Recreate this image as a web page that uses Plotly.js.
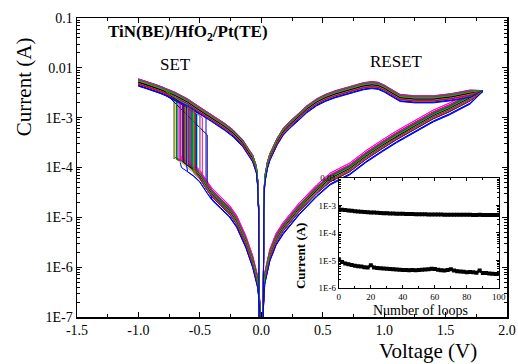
<!DOCTYPE html>
<html>
<head>
<meta charset="utf-8">
<script src="https://cdn.plot.ly/plotly-3.0.1.min.js"></script>
<style>html,body{margin:0;padding:0;background:#fff;}#chart{width:518px;height:364px;}</style>
</head>
<body>
<div id="chart"></div>
<script>
// ---------- Main I-V data ----------
// HRS branch on negative side (sweep 0 -> SET voltage)
const HRS_NEG_V = [-0.01,-0.012,-0.02,-0.03,-0.07,-0.125,-0.2,-0.26,-0.33,-0.4,-0.45,-0.5,-0.55,-0.6,-0.65,-0.7];
const HRS_NEG_I = [1e-8,1.5e-7,3e-7,5e-7,1.25e-6,3.1e-6,8e-6,1.3e-5,1.9e-5,2.8e-5,4.2e-5,6.5e-5,8.5e-5,1.05e-4,1.25e-4,1.45e-4];
// LRS branch on negative side (sweep -1 -> 0)
const LRS_NEG_V = [-1.0,-0.95,-0.9,-0.85,-0.8,-0.7,-0.6,-0.5,-0.4,-0.3,-0.23,-0.15,-0.1,-0.07,-0.04,-0.03,-0.022,-0.02,-0.019,-0.018];
const LRS_NEG_I = [5.0e-3,4.6e-3,4.2e-3,3.8e-3,3.4e-3,2.7e-3,2.0e-3,1.35e-3,9.5e-4,6.5e-4,4.8e-4,3.0e-4,1.9e-4,1.5e-4,9e-5,5e-5,1.5e-5,2e-6,1e-7,1e-8];
// LRS branch on positive side with RESET (sweep 0 -> 1.8)
const LRS_POS_V = [0.015,0.016,0.017,0.02,0.028,0.05,0.07,0.1,0.13,0.18,0.23,0.3,0.37,0.45,0.52,0.6,0.68,0.75,0.83,0.9,0.95,1.0,1.05,1.13,1.25,1.4,1.55,1.7,1.8];
const LRS_POS_I = [1e-8,1e-7,2e-6,1.5e-5,5.5e-5,1.1e-4,1.6e-4,2.3e-4,3.3e-4,5.2e-4,7.0e-4,1.0e-3,1.45e-3,2.0e-3,2.45e-3,2.9e-3,3.35e-3,3.7e-3,4.2e-3,4.45e-3,4.3e-3,3.8e-3,3.2e-3,2.45e-3,2.3e-3,2.3e-3,2.55e-3,3.0e-3,3.5e-3];
// HRS branch on positive side (sweep 1.8 -> 0)
const HRS_POS_V = [1.8,1.7,1.53,1.4,1.26,1.1,0.99,0.85,0.72,0.56,0.45,0.31,0.177,0.12,0.07,0.028,0.015,0.012];
const HRS_POS_I = [3.3e-3,2.4e-3,1.45e-3,1.05e-3,6.7e-4,4.0e-4,2.7e-4,1.6e-4,9.1e-5,5.7e-5,3.3e-5,1.45e-5,5.8e-6,3.5e-6,1.7e-6,5.8e-7,1.5e-7,1e-8];

// Per-loop estimates: SET voltage, current before/after the SET jump, LRS and HRS spread factors
const LOOP_SET_V = [-0.58,-0.62,-0.55,-0.66,-0.52,-0.60,-0.70,-0.57,-0.64,-0.50,
                    -0.61,-0.56,-0.68,-0.53,-0.59,-0.63,-0.48,-0.65,-0.57,-0.71,
                    -0.54,-0.60,-0.62,-0.45,-0.58,-0.67,-0.55,-0.61,-0.44,-0.64,
                    -0.59,-0.69,-0.56,-0.53,-0.62,-0.58,-0.66,-0.50,-0.60,-0.57,
                    -0.63,-0.54,-0.55,-0.61];
const LOOP_SET_LOW = [1.0e-4,1.2e-4,9e-5,1.3e-4,8e-5,1.2e-4,1.5e-4,1.0e-4,1.3e-4,7e-5,
                      1.2e-4,9.5e-5,1.4e-4,8e-5,1.1e-4,1.25e-4,6e-5,1.3e-4,1.0e-4,1.5e-4,
                      8.5e-5,1.15e-4,1.2e-4,5e-5,1.05e-4,1.35e-4,9e-5,1.2e-4,4.2e-5,1.3e-4,
                      1.1e-4,1.45e-4,9.5e-5,8e-5,1.2e-4,1.0e-4,1.35e-4,7e-5,1.1e-4,1.0e-4,
                      1.25e-4,8.5e-5,9e-5,1.2e-4];
const LOOP_SET_TOP = [1.6e-3,1.8e-3,1.4e-3,1.9e-3,1.2e-3,1.7e-3,2.1e-3,1.5e-3,1.9e-3,1.1e-3,
                      1.7e-3,1.5e-3,2.0e-3,1.3e-3,1.6e-3,1.8e-3,1.0e-3,1.9e-3,1.5e-3,2.2e-3,
                      1.3e-3,1.7e-3,1.8e-3,1.0e-3,1.6e-3,2.0e-3,1.4e-3,1.7e-3,4.5e-4,1.9e-3,
                      1.6e-3,2.1e-3,1.4e-3,1.2e-3,1.8e-3,1.5e-3,1.9e-3,1.1e-3,1.7e-3,1.5e-3,
                      1.8e-3,1.3e-3,1.4e-3,1.7e-3];
const LOOP_LRS_F = [1.02,1.10,0.98,0.88,1.05,1.15,1.08,0.95,1.12,1.00,
                    1.18,0.93,1.06,1.14,0.97,1.04,1.20,0.99,1.09,1.01,
                    0.96,1.13,1.03,0.90,1.11,1.16,0.94,1.07,1.00,1.12,
                    0.97,1.05,1.17,0.95,1.08,1.01,1.14,0.98,1.06,1.10,
                    1.03,0.96,1.09,0.86];
const LOOP_HRS_F = [1.05,1.20,0.95,0.80,1.10,1.35,1.00,0.92,1.15,1.02,
                    1.25,0.90,1.08,1.12,0.97,1.18,1.05,0.93,1.00,1.10,
                    0.96,1.22,1.04,0.82,1.14,1.35,0.94,1.06,0.98,1.16,
                    0.99,1.12,1.20,0.91,1.07,1.03,1.24,0.95,1.02,1.15,
                    1.06,0.93,1.10,0.78];

// ---------- Inset data (loops vs current) ----------
const INSET_LOOPS = [0,2,4,6,8,10,12,14,16,18,20,22,24,26,28,30,32,34,36,38,40,42,44,46,48,50,
                     52,54,56,58,60,62,64,66,68,70,72,74,76,78,80,82,84,86,88,90,92,94,96,98,100];
const INSET_LRS = [7.3e-4,7.0e-4,6.8e-4,6.6e-4,6.4e-4,6.2e-4,6.0e-4,5.9e-4,5.8e-4,5.7e-4,5.6e-4,5.5e-4,5.4e-4,5.3e-4,5.2e-4,5.2e-4,5.1e-4,5.1e-4,5.0e-4,5.0e-4,5.0e-4,4.9e-4,4.9e-4,4.9e-4,4.8e-4,4.8e-4,
                   4.8e-4,4.8e-4,4.7e-4,4.7e-4,4.7e-4,4.7e-4,4.7e-4,4.6e-4,4.6e-4,4.6e-4,4.6e-4,4.6e-4,4.6e-4,4.6e-4,4.6e-4,4.6e-4,4.5e-4,4.5e-4,4.6e-4,4.5e-4,4.5e-4,4.5e-4,4.5e-4,4.5e-4,4.6e-4];
const INSET_HRS = [1.1e-5,8.8e-6,7.8e-6,7.3e-6,6.9e-6,6.5e-6,6.2e-6,6.0e-6,5.7e-6,5.6e-6,6.7e-6,5.6e-6,5.3e-6,5.2e-6,5.1e-6,5.0e-6,4.9e-6,4.8e-6,4.7e-6,4.6e-6,4.5e-6,4.5e-6,4.4e-6,4.5e-6,4.4e-6,4.5e-6,
                   4.6e-6,4.7e-6,4.8e-6,5.0e-6,4.9e-6,4.6e-6,4.4e-6,4.3e-6,4.5e-6,4.8e-6,4.3e-6,4.1e-6,4.0e-6,3.9e-6,3.7e-6,3.8e-6,3.7e-6,3.6e-6,4.3e-6,3.5e-6,3.5e-6,3.4e-6,3.3e-6,3.2e-6,3.2e-6];

// ---------- Style ----------
const LOOP_COLORS = ['#000000','#FF0000','#00C000','#0000FF','#00FFFF','#FF00FF','#E0E000','#808000','#000080','#800080',
                     '#800000','#008000','#008080','#0000A0','#FF8000','#8000FF','#FF0080','#A0A0A0','#808080','#404040'];
const FONT = 'Liberation Serif, "Times New Roman", serif';

const traces = [];
for (let i = 0; i < LOOP_SET_V.length; i++) {
  const x = [], y = [];
  const sv = LOOP_SET_V[i], lf = LOOP_LRS_F[i], hf = LOOP_HRS_F[i];
  for (let j = 0; j < HRS_NEG_V.length; j++) {
    if (HRS_NEG_V[j] > sv) { x.push(HRS_NEG_V[j]); y.push(HRS_NEG_I[j] * hf); }
  }
  x.push(sv); y.push(LOOP_SET_LOW[i]);
  x.push(sv); y.push(LOOP_SET_TOP[i]);
  for (let j = LRS_NEG_V.length - 1; j >= 0; j--) {
    if (LRS_NEG_V[j] <= -0.8 && LRS_NEG_V[j] < sv) { x.push(LRS_NEG_V[j]); y.push(LRS_NEG_I[j] * lf); }
  }
  for (let j = 0; j < LRS_NEG_V.length; j++) { x.push(LRS_NEG_V[j]); y.push(LRS_NEG_I[j] * lf); }
  for (let j = 0; j < LRS_POS_V.length; j++) {
    x.push(LRS_POS_V[j]); y.push(j === LRS_POS_V.length - 1 ? LRS_POS_I[j] : LRS_POS_I[j] * lf);
  }
  for (let j = 0; j < HRS_POS_V.length; j++) {
    x.push(HRS_POS_V[j]); y.push(j === 0 ? HRS_POS_I[j] : HRS_POS_I[j] * hf);
  }
  traces.push({x: x, y: y, type: 'scatter', mode: 'lines', xaxis: 'x', yaxis: 'y',
    line: {color: LOOP_COLORS[i % LOOP_COLORS.length], width: 1}, hoverinfo: 'skip'});
}
[INSET_LRS, INSET_HRS].forEach(function (ser) {
  traces.push({x: INSET_LOOPS, y: ser, type: 'scatter', mode: 'lines+markers', xaxis: 'x2', yaxis: 'y2',
    line: {color: '#000', width: 2.5}, marker: {symbol: 'square', size: 4, color: '#000'}, hoverinfo: 'skip'});
});

const axBase = {showline: true, linecolor: '#000', mirror: 'ticks', showgrid: false, zeroline: false,
  ticks: 'inside', tickcolor: '#000'};

const layout = {
  width: 518, height: 364,
  margin: {l: 77, r: 11, t: 18, b: 47},
  paper_bgcolor: '#fff', plot_bgcolor: '#fff',
  showlegend: false,
  font: {family: FONT, color: '#000', size: 14},
  xaxis: Object.assign({}, axBase, {
    domain: [0, 1], anchor: 'y', range: [-1.5, 2.0], linewidth: 1.5, ticklen: 5, tickwidth: 1.2,
    tickvals: [-1.5,-1.0,-0.5,0.0,0.5,1.0,1.5,2.0], ticktext: ['-1.5','-1.0','-0.5','0.0','0.5','1.0','1.5','2.0'],
    tickfont: {size: 14, family: FONT},
    minor: {ticks: 'inside', ticklen: 3, tickwidth: 1, dtick: 0.25, tickcolor: '#000', showgrid: false}
  }),
  yaxis: Object.assign({}, axBase, {
    domain: [0, 1], anchor: 'x', type: 'log', range: [-7, -1], linewidth: 1.5, ticklen: 5, tickwidth: 1.2,
    tickvals: [1e-7,1e-6,1e-5,1e-4,1e-3,1e-2,1e-1], ticktext: ['1E-7','1E-6','1E-5','1E-4','1E-3','0.01','0.1'],
    tickfont: {size: 14, family: FONT},
    minor: {ticks: 'inside', ticklen: 3, tickwidth: 1, dtick: 'D1', tickcolor: '#000', showgrid: false}
  }),
  xaxis2: Object.assign({}, axBase, {
    domain: [0.609, 0.981], anchor: 'y2', range: [0, 100], linewidth: 1, ticklen: 3, tickwidth: 1,
    tickvals: [0,20,40,60,80,100], ticktext: ['0','20','40','60','80','100'],
    tickfont: {size: 9, family: FONT},
    minor: {ticks: 'inside', ticklen: 2, tickwidth: 1, dtick: 10, tickcolor: '#000', showgrid: false}
  }),
  yaxis2: Object.assign({}, axBase, {
    domain: [0.097, 0.465], anchor: 'x2', type: 'log', range: [-6, -2], linewidth: 1, ticklen: 3, tickwidth: 1,
    tickvals: [1e-6,1e-5,1e-4,1e-3,1e-2], ticktext: ['1E-6','1E-5','1E-4','1E-3','0.01'],
    tickfont: {size: 9, family: FONT},
    minor: {ticks: 'inside', ticklen: 2, tickwidth: 1, dtick: 'D1', tickcolor: '#000', showgrid: false}
  }),
  annotations: [
    {text: '<b>TiN(BE)/HfO<sub>2</sub>/Pt(TE)</b>', xref: 'paper', yref: 'paper', x: 0.068, y: 0.95,
     xanchor: 'left', yanchor: 'middle', showarrow: false, font: {size: 17, family: FONT}},
    {text: 'SET', xref: 'paper', yref: 'paper', x: 0.230, y: 0.846, showarrow: false,
     xanchor: 'center', yanchor: 'middle', font: {size: 17, family: FONT}},
    {text: 'RESET', xref: 'paper', yref: 'paper', x: 0.744, y: 0.853, showarrow: false,
     xanchor: 'center', yanchor: 'middle', font: {size: 17, family: FONT}},
    {text: 'Voltage (V)', xref: 'paper', yref: 'paper', x: 0.816, y: -0.114, showarrow: false,
     xanchor: 'center', yanchor: 'middle', font: {size: 21, family: FONT}},
    {text: 'Current (A)', xref: 'paper', yref: 'paper', x: -0.123, y: 0.769, showarrow: false, textangle: -90,
     xanchor: 'center', yanchor: 'middle', font: {size: 21, family: FONT}},
    {text: '<b>Current (A)</b>', xref: 'paper', yref: 'paper', x: 0.5186, y: 0.207, showarrow: false, textangle: -90,
     xanchor: 'center', yanchor: 'middle', font: {size: 13, family: FONT}},
    {text: 'Number of loops', xref: 'paper', yref: 'paper', x: 0.798, y: 0.023, showarrow: false,
     xanchor: 'center', yanchor: 'middle', font: {size: 14, family: FONT}}
  ]
};

Plotly.newPlot('chart', traces, layout, {staticPlot: true, displayModeBar: false});
</script>
</body>
</html>
